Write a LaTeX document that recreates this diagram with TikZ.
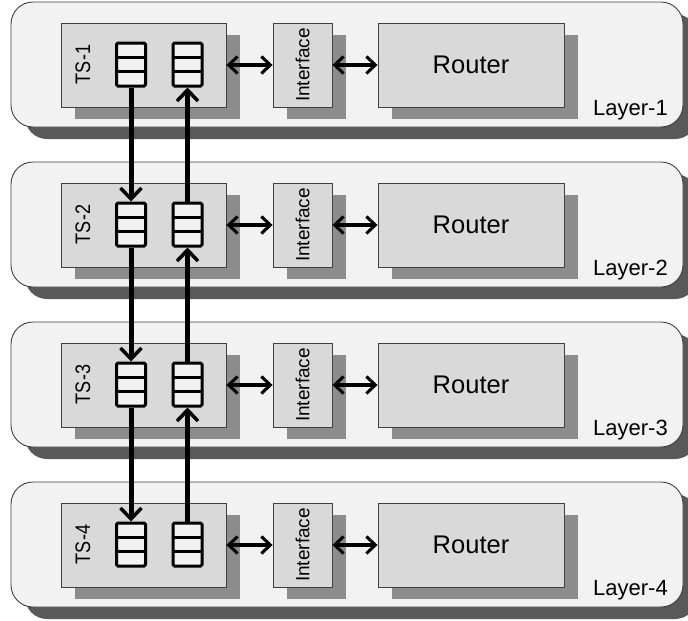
\documentclass[tikz,border=0pt]{standalone}
\usepackage{fontspec}
\setmainfont{Liberation Sans}
\usetikzlibrary{arrows.meta,shadows,calc}
\definecolor{layerfill}{HTML}{F2F2F2}
\definecolor{layershadow}{HTML}{595959}
\definecolor{boxfill}{HTML}{D9D9D9}
\definecolor{boxshadow}{HTML}{8C8C8C}
\definecolor{edgegray}{HTML}{404040}
\begin{document}
\begin{tikzpicture}[x=1pt,y=-1pt,
  layerbox/.style={draw=edgegray, line width=0.9pt, fill=layerfill, rounded corners=22pt,
    minimum width=672pt, minimum height=125pt, inner sep=0pt,
    drop shadow={shadow xshift=14pt, shadow yshift=-12pt, fill=layershadow, opacity=1}},
  innerbox/.style={draw=edgegray, line width=0.9pt, fill=boxfill, inner sep=0pt,
    minimum height=84pt,
    drop shadow={shadow xshift=14pt, shadow yshift=-12pt, fill=boxshadow, opacity=1}},
  qbox/.style={draw=black, line width=3pt, fill=layerfill, rounded corners=1.5pt,
    minimum width=29pt, minimum height=43pt, inner sep=0pt,
    path picture={\foreach \f in {1,2}{\draw[line width=2.8pt]
      ($(path picture bounding box.north west)!\f/3!(path picture bounding box.south west)$) --
      ($(path picture bounding box.north east)!\f/3!(path picture bounding box.south east)$);}}},
  vline/.style={line width=5pt, -{Straight Barb[length=11pt,width=21pt,line width=3.5pt]}},
  hline/.style={line width=3.5pt, {Straight Barb[length=9pt,width=17pt,line width=3pt]}-{Straight Barb[length=9pt,width=17pt,line width=3pt]}},
  tslabel/.style={rotate=90, inner sep=0pt, font=\fontsize{21}{25}\selectfont},
  iflabel/.style={rotate=90, inner sep=0pt, font=\fontsize{19}{23}\selectfont},
  rlabel/.style={font=\fontsize{25.5}{30}\selectfont},
  laylabel/.style={inner sep=0pt, anchor=base east, font=\fontsize{22}{26}\selectfont}
]
\useasboundingbox (0,0) rectangle (688,621);
\foreach \k [evaluate=\k as \dy using {160*(\k-1)}] in {1,...,4}{
  \node[layerbox] (L\k) at (347,64.5+\dy) {};
  \node[innerbox, minimum width=165pt] (TS\k) at (143.5,65+\dy) {};
  \node[innerbox, minimum width=59pt] (IF\k) at (302.5,65+\dy) {};
  \node[innerbox, minimum width=186pt, rlabel] (R\k) at (471,65+\dy) {Router};
  \node[iflabel] (IFt\k) at (IF\k.center) {Interface};
  \node[tslabel] (TSt\k) at (83,64.5+\dy) {\scalebox{0.86}[1]{TS-\k}};
  \node[qbox] (Qa\k) at (131,64.5+\dy) {};
  \node[qbox] (Qb\k) at (187.5,64.5+\dy) {};
  \node[laylabel] (LL\k) at (668,115+\dy) {Layer-\k};
  \draw[hline] (TS\k.east) -- (IF\k.west);
  \draw[hline] (IF\k.east) -- (R\k.west);
}
\foreach \k/\n in {1/2,2/3,3/4}{
  \draw[vline] (Qa\k.south) -- (Qa\n.north);
  \draw[vline] (Qb\n.north) -- (Qb\k.south);
}
\end{tikzpicture}
\end{document}
